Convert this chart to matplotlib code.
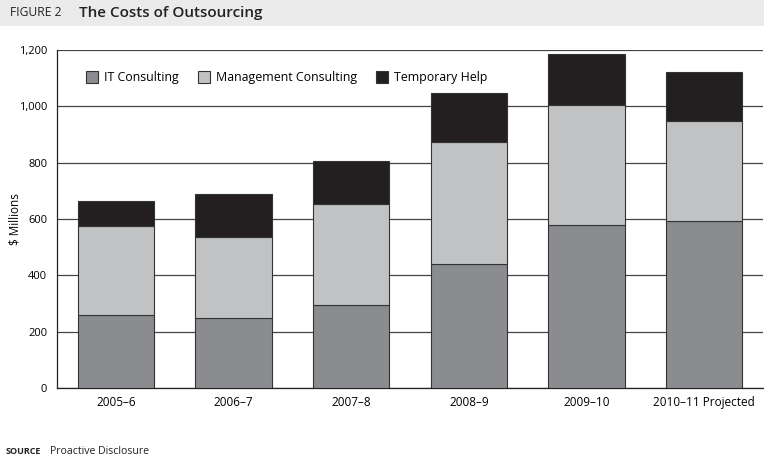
import matplotlib
matplotlib.use("Agg")
import matplotlib.pyplot as plt
import numpy as np

categories = ["2005–6", "2006–7", "2007–8", "2008–9", "2009–10", "2010–11 Projected"]
it_consulting = [259, 247, 294, 442, 579, 593]
mgmt_consulting = [315, 290, 358, 433, 427, 356]
temporary_help = [90, 152, 153, 171, 179, 173]
series_names = ["IT Consulting", "Management Consulting", "Temporary Help"]
yticks = [0, 200, 400, 600, 800, 1000, 1200]
ytick_labels = ["0", "200", "400", "600", "800", "1,000", "1,200"]

colors = ["#8b8c90", "#c1c2c4", "#231f20"]
plt.rcParams['font.family'] = ['Open Sans', 'DejaVu Sans']

fig = plt.figure(figsize=(7.64, 4.58), dpi=100)
ax = fig.add_axes([57/764, 1-388/458, (763-57)/764, 338/458])

x = np.arange(len(categories))
w = 0.65
bottom = np.zeros(len(categories))
for vals, c, name in zip([it_consulting, mgmt_consulting, temporary_help], colors, series_names):
    ax.bar(x, vals, w, bottom=bottom, color=c, edgecolor="#333333", linewidth=0.8,
           label=name, zorder=3)
    bottom += np.array(vals)

ax.set_xlim(-0.5, len(categories) - 0.5)
ax.set_ylim(0, 1200)
ax.set_yticks(yticks)
ax.set_yticklabels(ytick_labels, fontsize=8)
ax.set_xticks(x)
ax.set_xticklabels(categories, fontsize=8.5)
ax.tick_params(axis='both', length=0, pad=6)
ax.tick_params(axis='y', pad=7)
ax.yaxis.grid(True, color="#444444", linewidth=0.9, zorder=0)
ax.set_axisbelow(True)
for s in ["top", "right"]:
    ax.spines[s].set_visible(False)
ax.spines["left"].set_color("#222222")
ax.spines["bottom"].set_color("#222222")
ax.spines["left"].set_linewidth(0.9)
ax.spines["bottom"].set_linewidth(0.9)
ax.set_ylabel("$ Millions", fontsize=8.5)
ax.yaxis.set_label_coords(-0.05, 0.5)

leg = ax.legend(loc="upper left", bbox_to_anchor=(0.025, 0.97), ncol=3, frameon=False,
                fontsize=8.9, handlelength=1.0, handleheight=1.0, columnspacing=1.5,
                handletextpad=0.5)

# Title band
fig.patches.append(plt.Rectangle((0, 1-26/458), 1, 26/458, transform=fig.transFigure,
                                 facecolor="#ebebeb", edgecolor="none", zorder=0))
fig.text(10/764, 1-13/458, "FIGURE 2", fontsize=8.7, va="center", ha="left", color="#222222")
fig.text(79/764, 1-13/458, "The Costs of Outsourcing", fontsize=11, fontweight="semibold",
         va="center", ha="left", color="#222222")

fig.text(6/764, 1-451/458, "SOURCE", fontsize=6.5, fontweight="bold", va="center", ha="left",
         color="#222222")
fig.text(50/764, 1-451/458, "Proactive Disclosure", fontsize=7.6, va="center", ha="left",
         color="#222222")

fig.savefig("out.png", dpi=100)
